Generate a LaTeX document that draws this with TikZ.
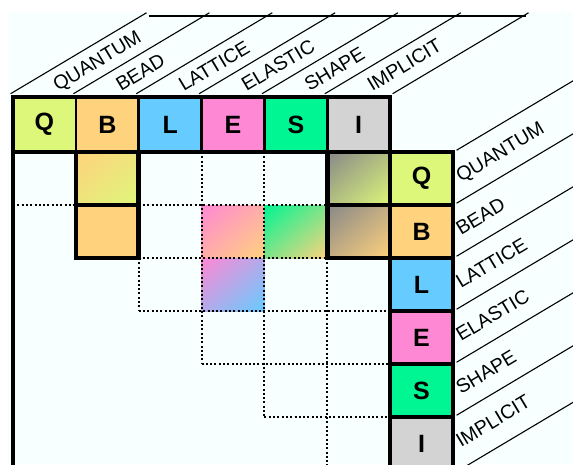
\documentclass[tikz,border=0pt]{standalone}
\usepackage{fontspec}
\setmainfont{Liberation Sans}
\usetikzlibrary{shadings}
\definecolor{cQ}{RGB}{221,247,122}
\definecolor{cB}{RGB}{255,210,125}
\definecolor{cL}{RGB}{102,204,255}
\definecolor{cE}{RGB}{255,136,212}
\definecolor{cS}{RGB}{0,245,147}
\definecolor{cI}{RGB}{211,211,211}
\definecolor{cG}{RGB}{136,136,136}
\definecolor{bgc}{RGB}{247,255,255}
\begin{document}
\begin{tikzpicture}[x=1pt,y=-1pt,
  basecell/.style={inner sep=0pt, minimum width=62.86pt, minimum height=53pt},
  hcell/.style={basecell, draw=black, line width=2.5pt, minimum height=55pt, font=\fontsize{25}{25}\selectfont\bfseries},
  rcell/.style={basecell, draw=black, line width=3.5pt, font=\fontsize{25}{25}\selectfont\bfseries},
  gcell/.style 2 args={basecell, shading=bilinear interpolation, upper left=#1, lower right=#2, upper right=#1!50!#2, lower left=#1!50!#2},
  framel/.style={line width=4.5pt, line join=miter},
  dots/.style={line width=2pt, dash pattern=on 2pt off 2.3pt},
  slant/.style={line width=1.1pt},
  lab/.style={font=\fontsize{19.5}{19.5}\selectfont, rotate=31, anchor=base west, inner sep=0pt}]
\useasboundingbox (0,0) rectangle (573,464);
\fill[bgc] (8,12) rectangle (573,464);
% columns x: 13, 75.86, 138.71, 201.57, 264.43, 327.29, 390.14, 453
% rows y: 97, 152, 205, 258, 311, 364, 417, 470
% header cells
\node[hcell, fill=cQ] (hQ) at (44.43,124.5) {Q};
\node[hcell, fill=cB] (hB) at (107.29,124.5) {B};
\node[hcell, fill=cL] (hL) at (170.14,124.5) {L};
\node[hcell, fill=cE] (hE) at (233,124.5) {E};
\node[hcell, fill=cS] (hS) at (295.86,124.5) {S};
\node[hcell, fill=cI] (hI) at (358.71,124.5) {I};
% right column
\node[rcell, fill=cQ] (rQ) at (421.57,178.5) {Q};
\node[rcell, fill=cB] (rB) at (421.57,231.5) {B};
\node[rcell, fill=cL] (rL) at (421.57,284.5) {L};
\node[rcell, fill=cE] (rE) at (421.57,337.5) {E};
\node[rcell, fill=cS] (rS) at (421.57,390.5) {S};
\node[rcell, fill=cI] (rI) at (421.57,443.5) {I};
% grid cells
\node[gcell={cB}{cQ}] (gQB) at (107.29,178.5) {};
\node[basecell, fill=cB] (gBB) at (107.29,231.5) {};
\node[gcell={cE}{cB}] (gBE) at (233,231.5) {};
\node[gcell={cS}{cB}] (gBS) at (295.86,231.5) {};
\node[gcell={cE}{cL}] (gLE) at (233,284.5) {};
\node[gcell={cG}{cQ}] (gQI) at (358.71,178.5) {};
\node[gcell={cG}{cB}] (gBI) at (358.71,231.5) {};
% dotted grid
\draw[dots] (13,205) -- (75.86,205);
\draw[dots] (138.71,205) -- (327.29,205);
\draw[dots] (138.71,258) -- (390.14,258);
\draw[dots] (138.71,311) -- (390.14,311);
\draw[dots] (201.57,364) -- (390.14,364);
\draw[dots] (264.43,417) -- (390.14,417);
\draw[dots] (138.71,258) -- (138.71,311);
\draw[dots] (201.57,152) -- (201.57,364);
\draw[dots] (264.43,152) -- (264.43,417);
\draw[dots] (327.29,258) -- (327.29,470);
% thick frames
\draw[framel] (13,475) -- (13,97) -- (390.14,97) -- (390.14,475);
\draw[framel] (13,152) -- (453,152) -- (453,475);
\draw[framel] (75.86,152) rectangle (138.71,258);
\draw[framel] (75.86,205) -- (138.71,205);
\draw[framel] (327.29,152) rectangle (390.14,258);
\draw[framel] (327.29,205) -- (390.14,205);
% top face
\foreach \n in {hQ,hB,hL,hE,hS,hI}{
  \draw[slant] ([xshift=-1.2pt,yshift=2pt]\n.north west) -- ++(136,-81);
}
\draw[slant] ([xshift=1.2pt,yshift=2pt]hI.north east) -- ++(136,-81);
\draw[slant] (149,16) -- (526.1,16);
% right face
\foreach \n in {rQ,rB,rL,rE,rS,rI}{
  \draw[slant] ([xshift=1.8pt]\n.north east) -- ++(120,-71.5);
}
\draw[slant] ([xshift=1.8pt]rI.south east) -- ++(120,-71.5);
% labels top
\node[lab] (tQ) at (58,92) {QUANTUM};
\node[lab] (tB) at (120.86,92) {BEAD};
\node[lab] (tL) at (183.71,92) {LATTICE};
\node[lab] (tE) at (246.57,92) {ELASTIC};
\node[lab] (tS) at (309.43,92) {SHAPE};
\node[lab] (tI) at (372.29,92) {IMPLICIT};
% labels right
\node[lab] (sQ) at (461,183) {QUANTUM};
\node[lab] (sB) at (461,236) {BEAD};
\node[lab] (sL) at (461,289) {LATTICE};
\node[lab] (sE) at (461,342) {ELASTIC};
\node[lab] (sS) at (461,395) {SHAPE};
\node[lab] (sI) at (461,448) {IMPLICIT};
\end{tikzpicture}
\end{document}
